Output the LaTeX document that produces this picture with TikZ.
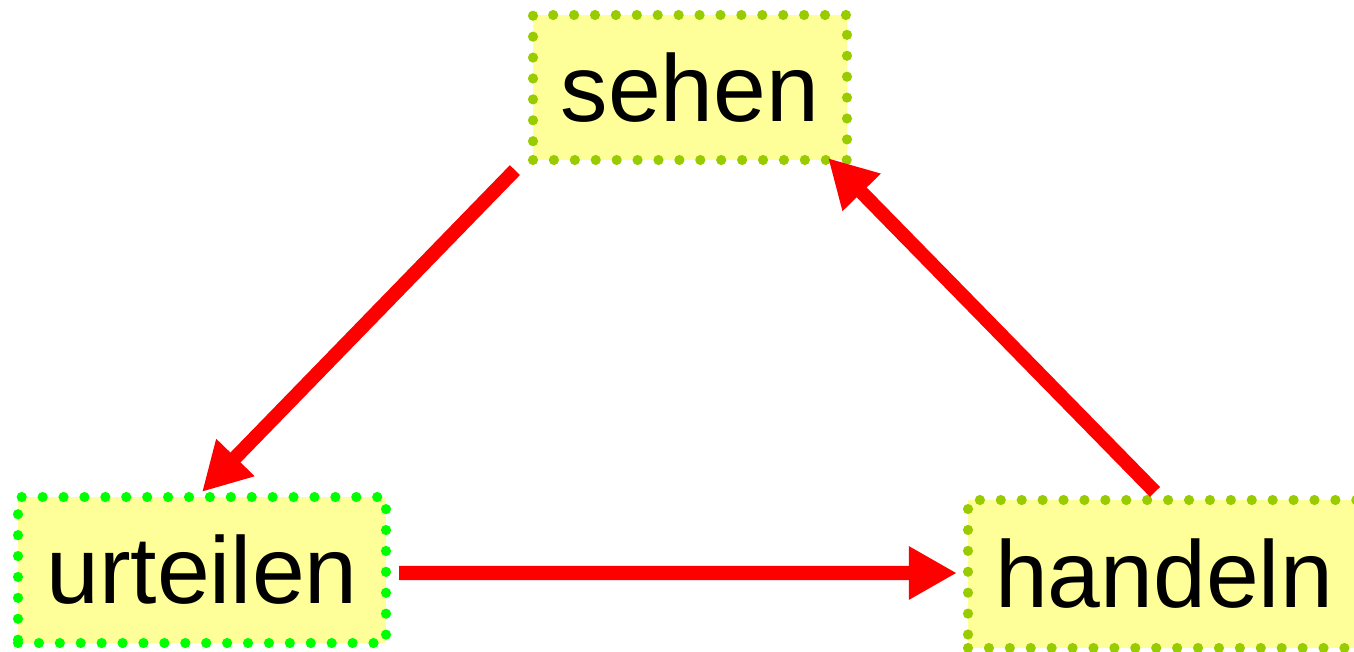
\documentclass[tikz,border=0pt]{standalone}
\usepackage{fontspec}
\setmainfont{Liberation Sans}
\usepackage{tikz}
\usetikzlibrary{arrows.meta, positioning}

\definecolor{boxfill}{RGB}{255,255,153}
\definecolor{dotolive}{RGB}{153,204,0}
\definecolor{dotgreen}{RGB}{0,255,0}

\begin{document}
\begin{tikzpicture}[
  box/.style={rectangle, fill=boxfill, draw=dotolive, line width=2.9pt, line cap=round,
    dash pattern=on 0pt off 5.95pt, minimum height=1.46cm, inner sep=0pt,
    font=\fontsize{27}{32}\selectfont},
  greenbox/.style={box, draw=dotgreen},
  flow/.style={-{Triangle[length=4.8mm, width=5mm]}, line width=4pt, red}
]
\useasboundingbox (0,0) rectangle (13.54,6.51);

% Nodes
\node[greenbox, minimum width=3.68cm] (urteilen) at (2.02,0.81) {urteilen};
\node[box, minimum width=3.92cm, minimum height=1.48cm] (handeln) at (11.64,0.77) {handeln};
\node[box, minimum width=3.14cm, minimum height=1.45cm] (sehen) at (6.90,5.635) {sehen};

% Cycle
\draw[flow] ([xshift=-1.3mm, yshift=-0.5mm]sehen.south west) -- (urteilen.north);
\draw[flow, shorten <=0.8mm, shorten >=0.6mm] ([yshift=-0.3mm]urteilen.east) -- ([yshift=0.1mm]handeln.west);
\draw[flow] ([xshift=-0.9mm, yshift=0.3mm]handeln.north) -- ([xshift=-2.4mm, yshift=0.7mm]sehen.south east);

\end{tikzpicture}
\end{document}
